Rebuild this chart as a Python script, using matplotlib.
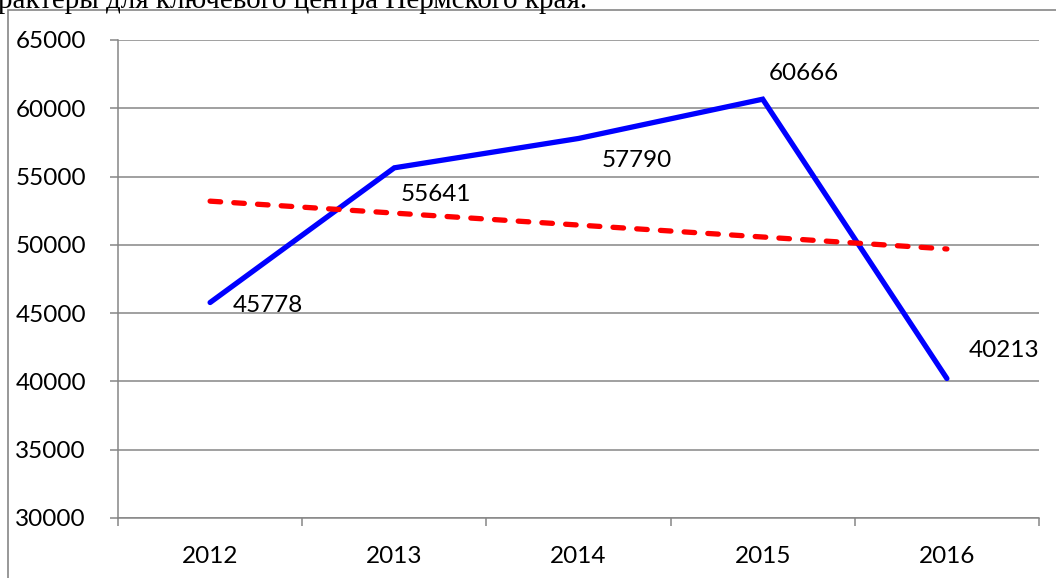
import matplotlib
matplotlib.use("Agg")
import matplotlib.pyplot as plt
from matplotlib.patches import Rectangle

years = ["2012", "2013", "2014", "2015", "2016"]
values = [45778, 55641, 57790, 60666, 40213]
trend = [53200, 52325, 51450, 50575, 49700]
label_offsets = [(23, -3), (6, -27), (23, -22), (6, 26), (22, 28)]  # pixels
yticks = [30000, 35000, 40000, 45000, 50000, 55000, 60000, 65000]
header = "рактеры для ключевого центра Пермского края."

W, H = 1056, 578
fig = plt.figure(figsize=(W / 100, H / 100), dpi=100)
fig.patch.set_facecolor("white")

gray = "#868686"
font = "Lato"

# outer chart border (extends beyond the image on right/bottom)
fig.patches.append(Rectangle((8 / W, -0.1), 1.2, (H - 10) / H + 0.1, transform=fig.transFigure,
                             fill=False, edgecolor=gray, linewidth=1.2, zorder=0))

# clipped header text of the surrounding document
fig.text(-2 / W, 1 - 8 / H, header, family="Liberation Serif", fontsize=21,
         ha="left", va="baseline", color="black")

ax = fig.add_axes([118 / W, (H - 518) / H, (1039 - 118) / W, (518 - 40) / H])
x = list(range(len(years)))

ax.set_xlim(-0.5, len(years) - 0.5)
ax.set_ylim(yticks[0], yticks[-1])
ax.set_yticks(yticks)
ax.set_yticklabels([str(v) for v in yticks], family=font, fontsize=17.5)
ax.yaxis.grid(True, color=gray, linewidth=1.1)
ax.set_axisbelow(True)

ax.set_xticks([i - 0.5 for i in range(len(years) + 1)])
ax.set_xticklabels([])
ax.set_xticks(x, minor=True)
ax.set_xticklabels(years, minor=True, family=font, fontsize=17.5)
ax.tick_params(axis="x", which="minor", length=0, pad=20)
ax.tick_params(axis="x", which="major", length=6, width=1.1, color=gray, direction="out")
ax.tick_params(axis="y", length=6, width=1.1, color=gray, direction="out", pad=17)

for s in ["top", "right"]:
    ax.spines[s].set_visible(False)
for s in ["left", "bottom"]:
    ax.spines[s].set_color(gray)
    ax.spines[s].set_linewidth(1.1)

ax.plot(x, values, color="#0000FF", linewidth=3.8, solid_capstyle="round",
        solid_joinstyle="miter", zorder=3)
ax.plot(x, trend, color="#FF0000", linewidth=3.8, linestyle=(0, (2.0, 2.5)),
        dash_capstyle="round", zorder=4)

for xi, v, (dx, dy) in zip(x, values, label_offsets):
    ax.annotate(str(v), (xi, v), xytext=(dx * 0.72, dy * 0.72), textcoords="offset points",
                ha="left", va="center", family=font, fontsize=17.5, color="black", zorder=5)

fig.savefig("out.png", dpi=100, facecolor="white")
